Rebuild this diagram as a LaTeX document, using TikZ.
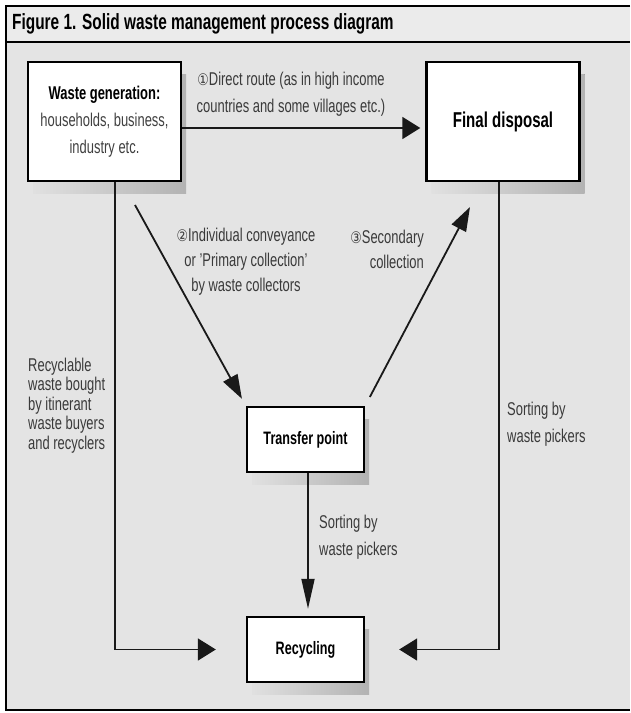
\documentclass[tikz,border=0pt]{standalone}
\usepackage{fontspec}
\setmainfont{Liberation Sans}[FakeStretch=0.7]
\newfontfamily\circfont{DejaVu Sans}[FakeStretch=0.8]
\usetikzlibrary{arrows.meta,shadows}
\definecolor{panel}{HTML}{E4E4E4}
\definecolor{titleband}{HTML}{EBEBEB}
\definecolor{labeltext}{HTML}{3A3A3A}
\newcommand{\circnum}[1]{{\circfont\fontsize{16}{16}\selectfont #1}}
\begin{document}
\begin{tikzpicture}[x=1pt,y=-1pt,
  stagebox/.style={draw=black, line width=2.4pt, fill=white, align=center, inner sep=2pt,
    font=\fontsize{18}{27}\selectfont,
    drop shadow={shadow xshift=5pt, shadow yshift=-12pt, opacity=1, left color=black!12, right color=black!30}},
  bigstage/.style={stagebox, minimum width=153pt, minimum height=119pt},
  smallstage/.style={stagebox, minimum width=117pt, minimum height=65pt},
  flowlabel/.style={inner sep=0pt, text=labeltext, font=\fontsize{18.5}{27}\selectfont},
  flow/.style={draw=black!90, line width=1.8pt},
  bighead/.style={-{Triangle[length=18pt,width=22pt]}},
  thinhead/.style={-{Triangle[length=30pt,width=13pt]}},
  slanthead/.style={-{Triangle[length=24pt,width=16pt]}}]
\useasboundingbox (0,0) rectangle (630,713);

% frame and title band
\fill[white] (0,0) rectangle (630,713);
\fill[panel] (6,42) rectangle (630,710);
\fill[titleband] (6,6) rectangle (630,42);
\draw[line width=1.5pt] (630,6) -- (6,6) -- (6,710) -- (630,710);
\draw[line width=1.5pt] (6,42) -- (630,42);
\node[anchor=west, inner sep=0pt, font=\bfseries\fontsize{22}{22}\selectfont] (title) at (12,24) {Figure 1. Solid waste management process diagram};

\node[bigstage, font=\fontsize{18.5}{27}\selectfont] (gen) at (104.5,121.5) {\textbf{Waste generation:}\\\textcolor{black!75}{households, business,}\\\textcolor{black!75}{industry etc.}};
\node[bigstage, font=\fontsize{21.5}{27}\selectfont] (disp) at (503,121.5) {\textbf{Final disposal}};
\node[smallstage] (trans) at (305.5,439.5) {\textbf{Transfer point}};
\node[smallstage] (recyc) at (305.5,649.5) {\textbf{Recycling}};

\coordinate (c2) at (135,205);
\coordinate (c3) at (470,207);

\path[flow,bighead,shorten >=5pt] ([yshift=-6.5pt]gen.east) -- ([yshift=-6.5pt]disp.west);
\path[flow,slanthead,shorten >=8pt] (c2) -- (trans.north west);
\path[flow,slanthead,shorten <=10pt] (trans.north east) -- (c3);
\path[flow,thinhead,shorten >=7pt] ([xshift=2.5pt]trans.south) -- ([xshift=2.5pt]recyc.north);
\path[flow,bighead,shorten >=30pt] ([xshift=10.5pt]gen.south) |- (recyc.west);
\path[flow,bighead,shorten >=34pt] ([xshift=-4pt]disp.south) |- (recyc.east);

\node[flowlabel, align=center] (l1) at (291,94) {\circnum{①}Direct route (as in high income\\countries and some villages etc.)};
\node[flowlabel, align=center, font=\fontsize{18.5}{25}\selectfont] (l2) at (246,262) {\circnum{②}Individual conveyance\\or 'Primary collection'\\by waste collectors};
\node[flowlabel, align=right, anchor=east, font=\fontsize{18.5}{25}\selectfont] (l3) at (424,249.5) {\circnum{③}Secondary\\collection};
\node[flowlabel, align=left, anchor=west, font=\fontsize{18.5}{19.5}\selectfont] (l4) at (28,405.5) {Recyclable\\waste bought\\by itinerant\\waste buyers\\and recyclers};
\node[flowlabel, align=left, anchor=west] (l5) at (507,424) {Sorting by\\waste pickers};
\node[flowlabel, align=left, anchor=west] (l6) at (319,537) {Sorting by\\waste pickers};

\end{tikzpicture}
\end{document}
